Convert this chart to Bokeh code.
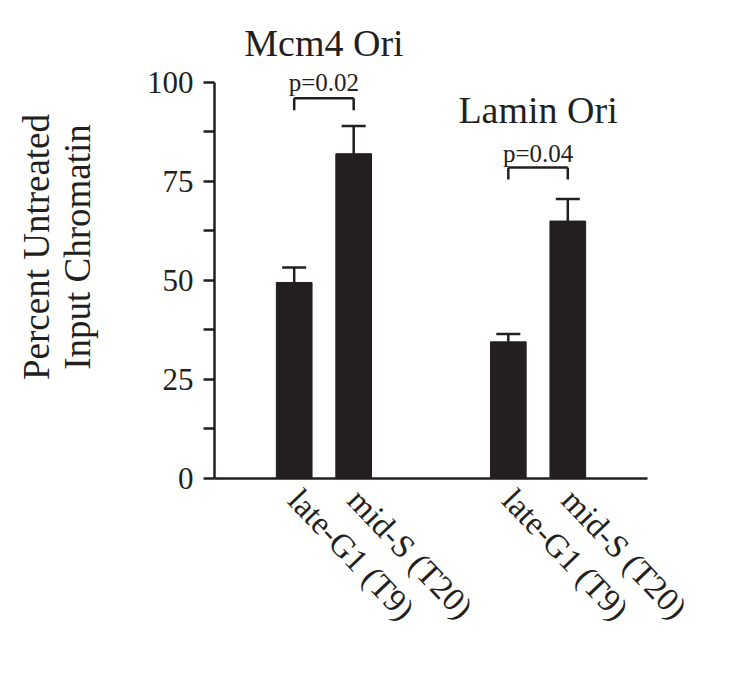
from bokeh.plotting import figure
from bokeh.models import (FactorRange, Range1d, ColumnDataSource, FixedTicker, Whisker, TeeHead)
from bokeh.core.properties import value
from bokeh.embed import file_html
from bokeh.resources import INLINE

# ---- data ----
groups = ["Mcm4 Ori", "Lamin Ori"]
phases = ["late-G1 (T9)", "mid-S (T20)"]
means = [49.5, 82.0, 34.5, 65.0]
errors = [3.8, 7.0, 2.0, 5.6]
p_labels = ["p=0.02", "p=0.04"]
bracket_y = [96.0, 78.5]
p_text_y = [100.0, 82.0]
title_y = [110.0, 93.0]
y_title = "Percent Untreated\nInput Chromatin"

INK = "#231f20"
FONT = "Liberation Serif"

factors = [(g, ph) for g in groups for ph in phases]
upper = [m + e for m, e in zip(means, errors)]

src = ColumnDataSource(dict(x=factors, top=means, upper=upper))

x_range = FactorRange(*factors, factor_padding=0.0, group_padding=1.6,
                      range_padding=0.84, range_padding_units="absolute")

p = figure(x_range=x_range, y_range=Range1d(0, 116.9),
           width=726, height=660, output_backend="svg", toolbar_location=None,
           min_border_left=214, min_border_right=79, min_border_top=15, min_border_bottom=182)
p.outline_line_color = None
p.grid.visible = False
p.background_fill_color = "white"

p.vbar(x="x", top="top", width=0.6, source=src, fill_color=INK, line_color=INK)

w = Whisker(base="x", lower="top", upper="upper", source=src, line_color=INK, line_width=2.5,
            upper_head=TeeHead(size=24, line_color=INK, line_width=2.5), lower_head=None)
p.add_layout(w)

# brackets
h_src = ColumnDataSource(dict(x0=[factors[0], factors[2]], x1=[factors[1], factors[3]],
                              y=bracket_y, yb=[b - 3 for b in bracket_y]))
p.segment(x0="x0", y0="y", x1="x1", y1="y", source=h_src, line_color=INK, line_width=2.5)
p.segment(x0="x0", y0="y", x1="x0", y1="yb", source=h_src, line_color=INK, line_width=2.5)
p.segment(x0="x1", y0="y", x1="x1", y1="yb", source=h_src, line_color=INK, line_width=2.5)

t_src = ColumnDataSource(dict(x=groups, py=p_text_y, pt=p_labels, ty=title_y, tt=groups))
p.text(x="x", y="py", text="pt", source=t_src, text_font=value(FONT), text_font_size="25px",
       text_align="center", text_baseline="middle", text_color=INK)
p.text(x="x", y="ty", text="tt", source=t_src, text_font=value(FONT), text_font_size="38px",
       text_align="center", text_baseline="middle", text_color=INK)

# y axis
yax = p.yaxis[0]
yax.ticker = FixedTicker(ticks=[0, 25, 50, 75, 100], minor_ticks=[12.5, 37.5, 62.5, 87.5])
yax.bounds = (0, 100)
yax.axis_line_color = INK
yax.axis_line_width = 2.5
yax.major_tick_line_color = INK
yax.minor_tick_line_color = INK
yax.major_tick_line_width = 2.5
yax.minor_tick_line_width = 2.5
yax.major_tick_in = 0
yax.major_tick_out = 11
yax.minor_tick_in = 0
yax.minor_tick_out = 11
yax.major_label_text_font = FONT
yax.major_label_text_font_size = "31px"
yax.major_label_text_color = INK
yax.major_label_standoff = 10
yax.axis_label = y_title
yax.axis_label_text_font = FONT
yax.axis_label_text_font_style = "normal"
yax.axis_label_text_font_size = "37px"
yax.axis_label_text_color = INK
yax.axis_label_text_line_height = 1.0
yax.axis_label_standoff = 46

# x axis
xax = p.xaxis[0]
xax.axis_line_color = INK
xax.axis_line_width = 2.5
xax.major_tick_line_color = None
xax.minor_tick_line_color = None
xax.major_label_orientation = -0.81
xax.major_label_text_font = FONT
xax.major_label_text_font_size = "33px"
xax.major_label_text_color = INK
xax.major_label_standoff = 10
xax.group_text_font_size = "0px"
xax.group_text_alpha = 0
xax.separator_line_alpha = 0

open("out.html", "w").write(file_html(p, INLINE))
